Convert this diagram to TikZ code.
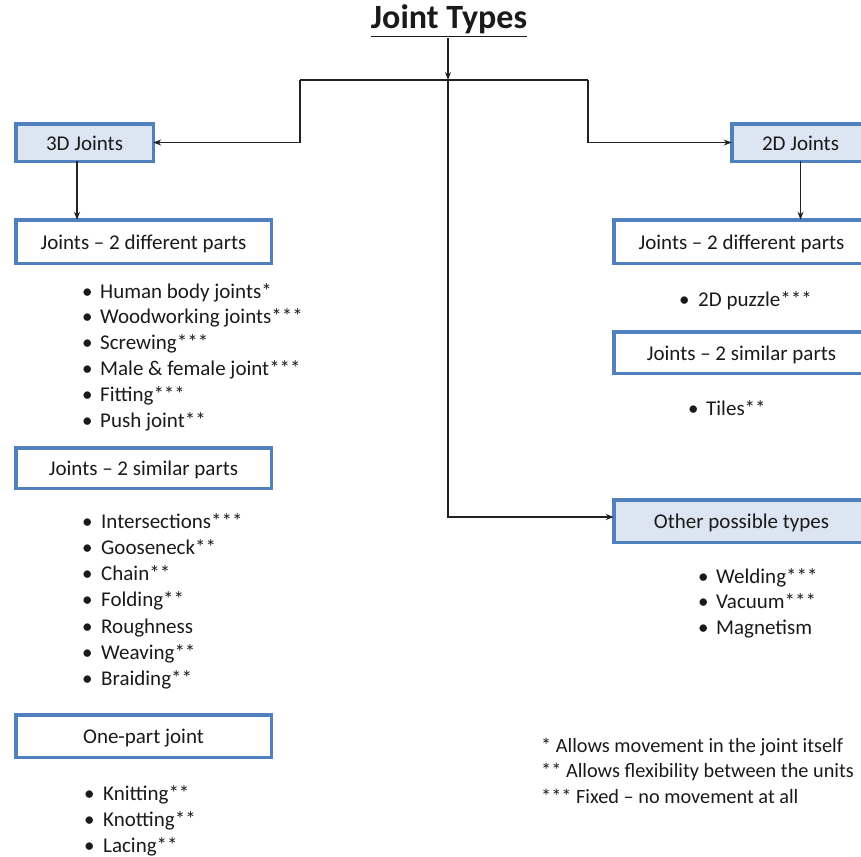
\documentclass[tikz,border=0pt]{standalone}
\usepackage{fontspec}
\setmainfont{Carlito}
\usetikzlibrary{arrows.meta}
\definecolor{boxblue}{HTML}{5080BE}
\definecolor{boxfill}{HTML}{DCE6F2}
\definecolor{txt}{HTML}{1A1A1A}
\definecolor{conn}{HTML}{222222}
\tikzset{
  x=1pt,y=-1pt,
  jbox/.style={draw=boxblue,line width=3.5pt,fill=white,inner sep=0pt,outer sep=0pt,
    minimum width=255.5pt,text=txt,font=\fontsize{21}{23}\selectfont,
    text height=17pt,text depth=2pt},
  jboxf/.style={jbox,fill=boxfill},
  conline/.style={draw=conn,line width=1.2pt,-{Stealth[length=8pt,width=6pt]}},
  plainline/.style={draw=conn,line width=1.2pt},
  item/.style={anchor=base west,inner sep=0pt,text=txt,font=\fontsize{21}{23}\selectfont},
  note/.style={item,font=\fontsize{20.3}{22}\selectfont},
}
\newcommand{\bul}[1]{\makebox[#1][l]{\hspace{-4pt}\textbullet}}
\begin{document}
\begin{tikzpicture}
\useasboundingbox (0,0) rectangle (861,856);
% title
\node[inner sep=0pt,text=txt,font=\fontsize{34}{36}\selectfont\bfseries,anchor=base] (title) at (449,29) {\underline{Joint Types}};
% boxes
\node[jboxf,minimum width=137.5pt,minimum height=37.5pt] (d3) at (84.5,142.5) {3D Joints};
\node[jboxf,minimum width=137.5pt,minimum height=37.5pt] (d2) at (800.5,142.5) {2D Joints};
\node[jbox,minimum height=43.5pt] (ld) at (143.5,241.5) {Joints -- 2 different parts};
\node[jbox,minimum height=40.5pt] (ls) at (143.5,468) {Joints -- 2 similar parts};
\node[jbox,minimum height=42.5pt] (lo) at (143.5,736) {One-part joint};
\node[jbox,minimum height=43.5pt] (rd) at (741.5,241.5) {Joints -- 2 different parts};
\node[jbox,minimum height=41.5pt] (rs) at (741.5,352.5) {Joints -- 2 similar parts};
\node[jboxf,minimum height=42.5pt] (ro) at (741.5,521) {Other possible types};
% connectors
\coordinate (hub) at (448,80);
\coordinate (tbot) at (448,38);
\coordinate (hl) at (300,80);
\coordinate (hr) at (588,80);
\draw[conline] (tbot) -- (hub);
\draw[plainline] (hl) -- (hr);
\draw[conline] (hl) |- (d3.east);
\draw[conline] (hr) |- (d2.west);
\draw[conline] (hub) |- ([yshift=4pt]ro.west);
\draw[conline] (d3.south -| 77,0) -- (ld.north -| 77,0);
\draw[conline] (d2.south) -- (rd.north -| d2.south);
% left list 1
\foreach \t [count=\i from 0] in {Human body joints*,Woodworking joints***,Screwing***,Male \& female joint***,Fitting***,Push joint**}
  \node[item] (la\i) at (86,{298+25.9*\i}) {\bul{14pt}\t};
% left list 2
\foreach \t [count=\i from 0] in {Intersections***,Gooseneck**,Chain**,Folding**,Roughness,Weaving**,Braiding**}
  \node[item] (lb\i) at (86,{528+26.3*\i}) {\bul{15pt}\t};
% left list 3
\foreach \t [count=\i from 0] in {Knitting**,Knotting**,Lacing**}
  \node[item] (lc\i) at (88,{800.5+25.8*\i}) {\bul{15pt}\t};
% right lists
\node[item] (ra) at (683,306) {\bul{15pt}2D puzzle***};
\node[item] (rb) at (692,415) {\bul{14pt}Tiles**};
\foreach \t [count=\i from 0] in {Welding***,Vacuum***,Magnetism}
  \node[item] (rc\i) at (702,{583+25.5*\i}) {\bul{14pt}\t};
% footnotes
\node[note] (f1) at (541,752) {* Allows movement in the joint itself};
\node[note] (f2) at (541,777.5) {** Allows flexibility between the units};
\node[note] (f3) at (541,803) {*** Fixed -- no movement at all};
\end{tikzpicture}
\end{document}
